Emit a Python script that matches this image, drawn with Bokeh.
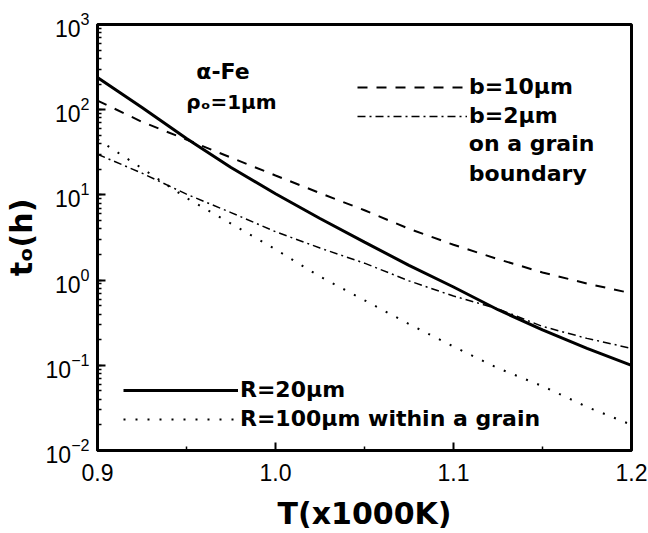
from bokeh.plotting import figure
from bokeh.models import Label, Legend, LegendItem, FixedTicker, LogTicker, Range1d, PrintfTickFormatter
from bokeh.embed import file_html
from bokeh.resources import INLINE

# Temperature (x1000 K)
T = [0.900, 0.925, 0.950, 0.975, 1.000, 1.025, 1.050, 1.075, 1.100, 1.125, 1.150, 1.175, 1.200]
# time t_o (h) for each case
t_R20 = [238, 106, 46, 21.0, 10.3, 5.28, 2.79, 1.49, 0.83, 0.449, 0.26, 0.158, 0.100]
t_R100 = [45, 20.5, 9.2, 4.6, 2.3, 1.10, 0.58, 0.305, 0.166, 0.0925, 0.057, 0.0325, 0.020]
t_b10 = [128, 72, 44.6, 27.4, 16.9, 10.5, 6.6, 4.0, 2.6, 1.76, 1.23, 0.91, 0.70]
t_b2 = [30, 18.0, 10.2, 6.2, 3.7, 2.38, 1.58, 0.98, 0.65, 0.46, 0.286, 0.207, 0.158]

x_ticks = [0.9, 1.0, 1.1, 1.2]
x_minor = [0.95, 1.05, 1.15]

p = figure(width=648, height=533, x_range=Range1d(0.9, 1.2), y_range=Range1d(0.01, 1000),
           y_axis_type="log", output_backend="svg", toolbar_location=None,
           min_border_left=96, min_border_right=17, min_border_top=24, min_border_bottom=76)

p.grid.visible = False
p.outline_line_color = "black"
p.outline_line_width = 3
p.background_fill_color = "white"
p.border_fill_color = "white"

r_R20 = p.line(T, t_R20, line_color="black", line_width=3)
r_R100 = p.line(T, t_R100, line_color="black", line_width=2, line_dash="2 10")
r_b10 = p.line(T, t_b10, line_color="black", line_width=2, line_dash="10 9")
r_b2 = p.line(T, t_b2, line_color="black", line_width=1.5, line_dash="8 4 2 4")

p.xaxis.ticker = FixedTicker(ticks=x_ticks, minor_ticks=x_minor)
p.xaxis.formatter = PrintfTickFormatter(format="%.1f")
p.yaxis.ticker = LogTicker(num_minor_ticks=10)

for ax in (p.xaxis[0], p.yaxis[0]):
    ax.axis_line_width = 3
    ax.axis_line_color = "black"
    ax.major_tick_in = 8
    ax.major_tick_out = 0
    ax.minor_tick_in = 4
    ax.minor_tick_out = 0
    ax.major_tick_line_width = 2
    ax.minor_tick_line_width = 1.5
    ax.major_label_text_font = "Liberation Sans"
    ax.major_label_text_font_size = "23px"
    ax.major_label_text_color = "black"
    ax.axis_label_text_font = "DejaVu Sans"
    ax.axis_label_text_font_style = "bold"
    ax.axis_label_text_font_size = "30px"
    ax.axis_label_text_color = "black"

p.xaxis.axis_label = "T(x1000K)"
p.yaxis.axis_label = "tₒ(h)"
p.xaxis.major_label_standoff = 13
p.xaxis.axis_label_standoff = 12
p.yaxis.major_label_standoff = 8
p.yaxis.axis_label_standoff = 4

def legend(items, loc, gw):
    lg = Legend(items=items, location=loc, border_line_color=None, background_fill_alpha=0,
                padding=0, margin=0, spacing=4, glyph_width=gw, glyph_height=20,
                label_height=20, label_standoff=2, label_text_font="DejaVu Sans",
                label_text_font_style="bold", label_text_font_size="22px",
                label_text_color="black")
    p.add_layout(lg)

legend([LegendItem(label="b=10μm", renderers=[r_b10]),
        LegendItem(label="b=2μm", renderers=[r_b2])], (260, 322), 110)
legend([LegendItem(label="R=20μm", renderers=[r_R20]),
        LegendItem(label="R=100μm within a grain", renderers=[r_R100])], (26, 19), 115)

def note(x, y, text, size="22px"):
    p.add_layout(Label(x=x, y=y, text=text, text_font="DejaVu Sans", text_font_style="bold",
                       text_font_size=size, text_color="black", text_baseline="middle",
                       text_align="left"))

note(0.9555, 279, "α-Fe")
note(0.9499, 122, "ρₒ=1μm", "20px")
note(1.1086, 40.1, "on a grain")
note(1.1086, 17.6, "boundary")

open("out.html", "w").write(file_html(p, INLINE))
